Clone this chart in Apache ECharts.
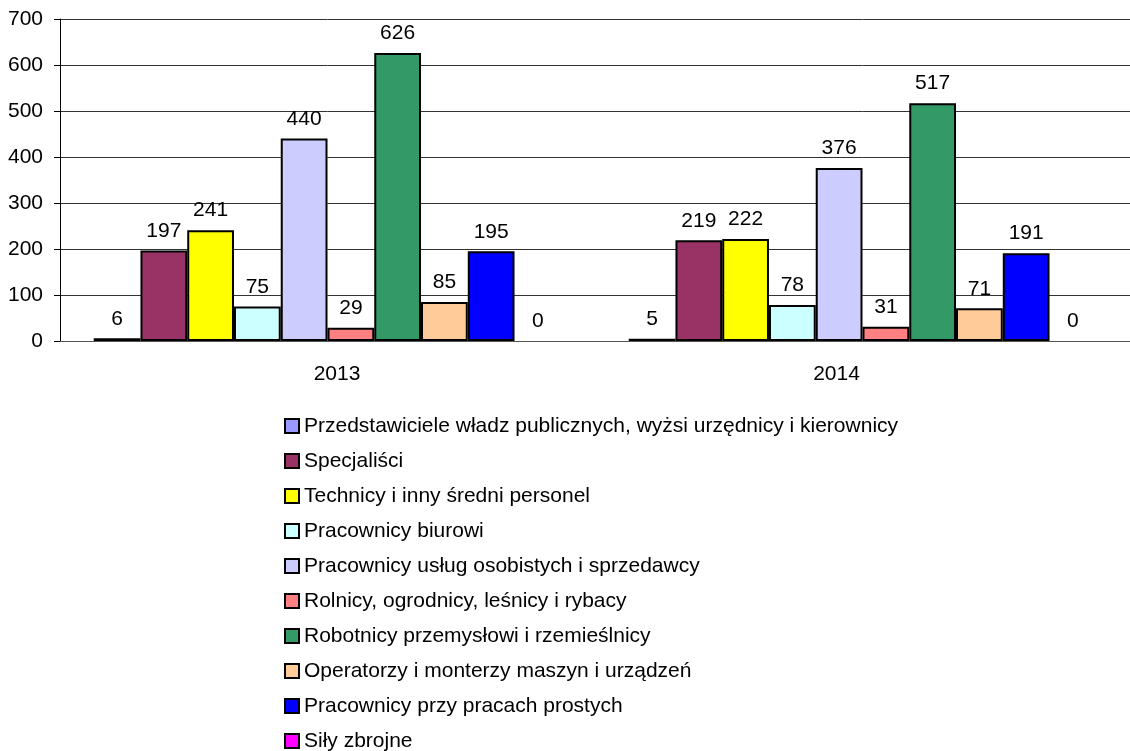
<!DOCTYPE html>
<html>
<head>
<meta charset="utf-8">
<script src="https://cdn.jsdelivr.net/npm/echarts@6/dist/echarts.min.js"></script>
<style>
html,body{margin:0;padding:0;background:#fff;}
#chart{width:1130px;height:751px;}
</style>
</head>
<body>
<div id="chart"></div>
<script>
const categories = ['2013', '2014'];
const seriesNames = [
  'Przedstawiciele władz publicznych, wyżsi urzędnicy i kierownicy',
  'Specjaliści',
  'Technicy i inny średni personel',
  'Pracownicy biurowi',
  'Pracownicy usług osobistych i sprzedawcy',
  'Rolnicy, ogrodnicy, leśnicy i rybacy',
  'Robotnicy przemysłowi i rzemieślnicy',
  'Operatorzy i monterzy maszyn i urządzeń',
  'Pracownicy przy pracach prostych',
  'Siły zbrojne'
];
const przedstawiciele = [6, 5];
const specjalisci = [197, 219];
const technicy = [241, 222];
const biurowi = [75, 78];
const uslugi = [440, 376];
const rolnicy = [29, 31];
const robotnicy = [626, 517];
const operatorzy = [85, 71];
const proste = [195, 191];
const silyZbrojne = [0, 0];
const seriesValues = [przedstawiciele, specjalisci, technicy, biurowi, uslugi, rolnicy, robotnicy, operatorzy, proste, silyZbrojne];
const colors = ['#9999FF', '#993366', '#FFFF00', '#CCFFFF', '#CCCCFF', '#FF8080', '#339966', '#FFCC99', '#0000FF', '#FF00FF'];
const yTicks = [0, 100, 200, 300, 400, 500, 600, 700];

const FONT = '"Liberation Sans", Arial, sans-serif';
const FS = 21;

const chart = echarts.init(document.getElementById('chart'), null, {renderer: 'canvas'});
const option = {
  animation: false,
  backgroundColor: '#ffffff',
  textStyle: {fontFamily: FONT},
  grid: {left: 60, top: 19, width: 1076, height: 322, containLabel: false},
  legend: {
    orient: 'vertical',
    left: 279,
    top: 409,
    height: 400,
    padding: 5,
    icon: 'rect',
    itemWidth: 14,
    itemHeight: 14,
    itemGap: 11,
    data: seriesNames,
    itemStyle: {borderColor: '#000', borderWidth: 2},
    textStyle: {fontFamily: FONT, fontSize: FS, color: '#000', lineHeight: 24}
  },
  xAxis: {
    type: 'category',
    data: categories,
    axisLine: {lineStyle: {color: '#555', width: 1}},
    axisTick: {show: false},
    axisLabel: {
      margin: 23,
      formatter: function (v) { return v === categories[0] ? '{a|' + v + '}' : '{b|' + v + '}'; },
      rich: {
        a: {fontFamily: FONT, fontSize: FS, color: '#000', padding: [0, 0, 0, 19]},
        b: {fontFamily: FONT, fontSize: FS, color: '#000', padding: [0, 52, 0, 0]}
      }
    }
  },
  yAxis: {
    type: 'value',
    min: yTicks[0],
    max: yTicks[yTicks.length - 1],
    interval: 100,
    axisLine: {show: true, lineStyle: {color: '#000', width: 1}},
    axisTick: {show: true, length: 6, lineStyle: {color: '#000'}},
    splitLine: {lineStyle: {color: '#333', width: 1}},
    axisLabel: {margin: 17, fontFamily: FONT, fontSize: FS, color: '#000'}
  },
  series: seriesNames.map(function (name, i) {
    const allZero = seriesValues[i].every(function (v) { return v === 0; });
    return {
      name: name,
      type: 'bar',
      data: seriesValues[i],
      barGap: '0%',
      barCategoryGap: '12.6%',
      itemStyle: {color: colors[i], borderColor: '#000', borderWidth: allZero ? 0 : 2},
      label: {show: true, position: 'top', distance: 9, fontFamily: FONT, fontSize: FS, color: '#000'}
    };
  })
};
chart.setOption(option);
</script>
</body>
</html>
